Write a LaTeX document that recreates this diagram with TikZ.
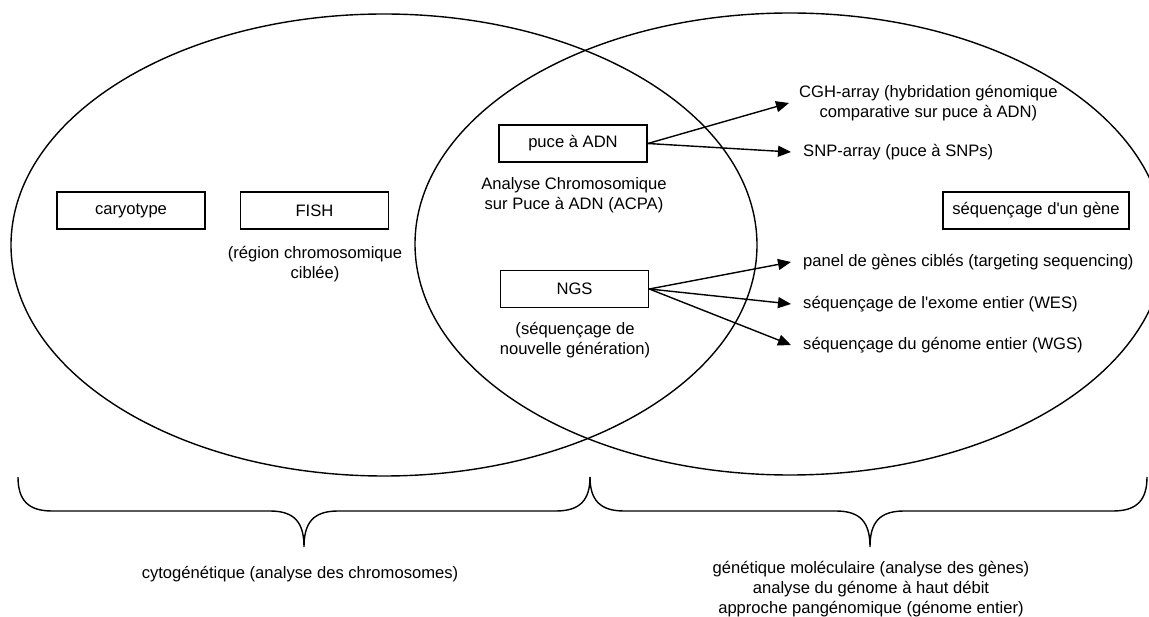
\documentclass[tikz,border=0pt]{standalone}
\usepackage{fontspec}
\setmainfont{Liberation Sans}
\usetikzlibrary{arrows.meta}
\tikzset{
  txt/.style={font=\fontsize{16.6}{20}\selectfont, inner sep=0pt, align=center},
  boxnode/.style={draw, line width=1.6pt, minimum width=148pt, minimum height=37pt, inner sep=0pt, font=\fontsize{16.6}{20}\selectfont},
  arr/.style={line width=1.4pt, -{Triangle[length=13pt,width=11pt]}},
  setline/.style={line width=1.4pt},
  leftt/.style={txt, anchor=west, inner xsep=12pt, align=left}
}
\begin{document}
\begin{tikzpicture}[x=1pt,y=-1pt]
\useasboundingbox (0,0) rectangle (1149,617);
\fill[white] (0,0) rectangle (1149,617);
\clip (0,0) rectangle (1149,617);
% sets
\draw[setline] (384,245) ellipse [x radius=373pt, y radius=231pt];
\draw[setline] (790,244) ellipse [x radius=375pt, y radius=231pt];
% boxes
\node[boxnode] (caryo) at (131,210.5) {caryotype};
\node[boxnode] (fish) at (314.5,210.5) {FISH};
\node[boxnode] (puce) at (573,143.5) {puce à ADN};
\node[boxnode] (ngs) at (574.5,289) {NGS};
\node[boxnode, minimum width=186pt] (gene) at (1036,210.5) {séquençage d\textquotesingle un gène};
% sub labels
\node[txt] (fishsub) at (315,264) {(région chromosomique\\ciblée)};
\node[txt] (acpa) at (574,195) {Analyse Chromosomique\\sur Puce à ADN (ACPA)};
\node[txt] (ngssub) at (575,340.5) {(séquençage de\\nouvelle génération)};
% right items
\node[txt, anchor=west, inner xsep=10pt] (cgh) at (789,103) {CGH-array (hybridation génomique\\comparative sur puce à ADN)};
\node[leftt] (snp) at (791,152) {SNP-array (puce à SNPs)};
\node[leftt] (panel) at (791,262) {panel de gènes ciblés (targeting sequencing)};
\node[leftt] (wes) at (791,304) {séquençage de l\textquotesingle exome entier (WES)};
\node[leftt] (wgs) at (791,345) {séquençage du génome entier (WGS)};
% arrows
\draw[arr] (puce.east) -- (cgh.west);
\draw[arr] (puce.east) -- (snp.west);
\draw[arr] (ngs.east) -- (panel.west);
\draw[arr] (ngs.east) -- (wes.west);
\draw[arr] (ngs.east) -- (wgs.west);
% braces
\draw[setline] (18,477) .. controls (18,500) and (28,511) .. (52,511) -- (270,511)
  .. controls (295,511) and (304,523) .. (304,547)
  .. controls (304,523) and (313,511) .. (338,511) -- (556,511)
  .. controls (580,511) and (590,500) .. (590,477);
\draw[setline] (590,477) .. controls (590,500) and (600,511) .. (624,511) -- (836,511)
  .. controls (861,511) and (870,523) .. (870,547)
  .. controls (870,523) and (879,511) .. (904,511) -- (1113,511)
  .. controls (1137,511) and (1147,500) .. (1147,477);
% bottom labels
\node[txt] (cyto) at (300,574) {cytogénétique (analyse des chromosomes)};
\node[txt] (mol) at (871,589) {génétique moléculaire (analyse des gènes)\\analyse du génome à haut débit\\approche pangénomique (génome entier)};
\end{tikzpicture}
\end{document}
